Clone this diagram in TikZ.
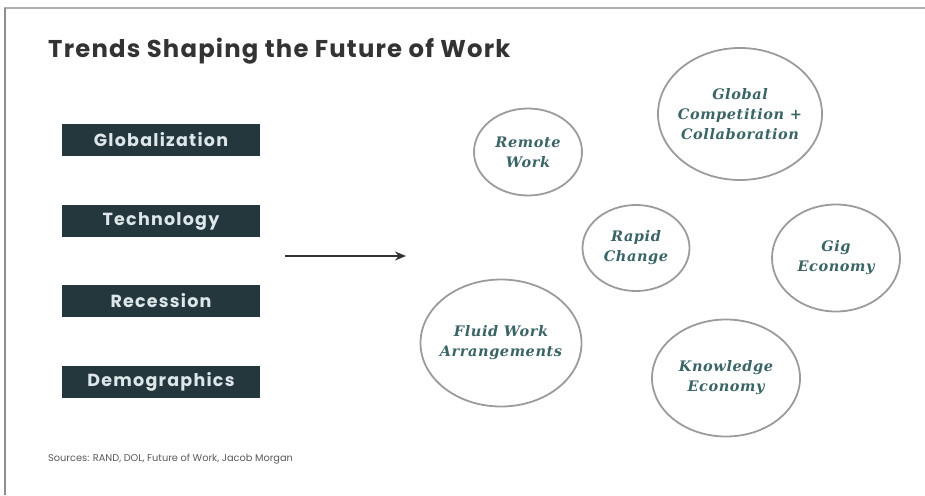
\documentclass[tikz,border=0pt]{standalone}
\usepackage{fontspec}
\setmainfont{Liberation Serif}
\setsansfont{Poppins}
\newfontfamily\headfont[LetterSpace=5]{Poppins}
\newfontfamily\boxfont[LetterSpace=7]{Poppins}
\newfontfamily\notefont{Poppins}
\newfontfamily\ovalfont[LetterSpace=4]{DejaVu Serif}
\usetikzlibrary{shapes.geometric,arrows.meta}
\definecolor{slate}{HTML}{24373D}
\definecolor{boxtext}{HTML}{DDE7E9}
\definecolor{ovaltext}{HTML}{3A6466}
\definecolor{ovalline}{HTML}{9A9C9C}
\definecolor{framegray}{HTML}{8E8E8E}
\definecolor{titlegray}{HTML}{333333}
\tikzset{
  trendbox/.style={fill=slate, text=boxtext, minimum width=198pt, minimum height=32pt,
    inner sep=0pt, font=\boxfont\bfseries\fontsize{17.5}{20}\selectfont},
  % negative inner sep keeps the outline at its minimum size regardless of the label
  oval/.style={ellipse, draw=ovalline, line width=1.8pt, inner sep=-25pt, align=center,
    text=ovaltext, font=\ovalfont\bfseries\itshape\fontsize{14.5}{20}\selectfont},
  flow/.style={draw=titlegray, line width=1.8pt, -{Stealth[length=11pt,width=9pt]}},
}
\begin{document}
\begin{tikzpicture}[x=1pt,y=-1pt]
  \useasboundingbox (0,0) rectangle (925,495);
  % page frame
  \draw[framegray!70, line width=2pt] (4,8) -- (925,8);
  \draw[framegray, line width=2pt] (5,8) -- (5,495);

  % heading
  \node[anchor=base west, inner sep=0pt, text=titlegray,
        font=\headfont\bfseries\fontsize{24.3}{28}\selectfont] (title) at (48,58)
        {Trends Shaping the Future of Work};

  % driving forces
  \node[trendbox] (glob) at (161,140) {Globalization};
  \node[trendbox] (tech) at (161,221) {Technology};
  \node[trendbox] (rec)  at (161,301) {Recession};
  \node[trendbox] (demo) at (161,382) {Demographics};

  % arrow towards the outcomes
  \coordinate (from) at (285,256);
  \coordinate (to) at (406,256);
  \draw[flow] (from) -- (to);

  % outcomes
  \node[oval, minimum width=108pt, minimum height=87pt] (remote) at (528,152) {Remote\\Work};
  \node[oval, minimum width=164pt, minimum height=132pt] (global) at (740,114) {Global\\Competition +\\Collaboration};
  \node[oval, minimum width=107pt, minimum height=86pt] (rapid) at (636,248) {Rapid\\Change};
  \node[oval, minimum width=128pt, minimum height=107pt] (gig) at (836,258) {Gig\\Economy};
  \node[oval, minimum width=161pt, minimum height=127pt] (fluid) at (501,343) {Fluid Work\\Arrangements};
  \node[oval, minimum width=148pt, minimum height=117pt] (know) at (726,378) {Knowledge\\Economy};

  % footnote
  \node[anchor=base west, inner sep=0pt, text=black!65,
        font=\notefont\fontsize{9.8}{11}\selectfont] (src) at (48,461)
        {Sources: RAND, DOL, Future of Work, Jacob Morgan};
\end{tikzpicture}
\end{document}
